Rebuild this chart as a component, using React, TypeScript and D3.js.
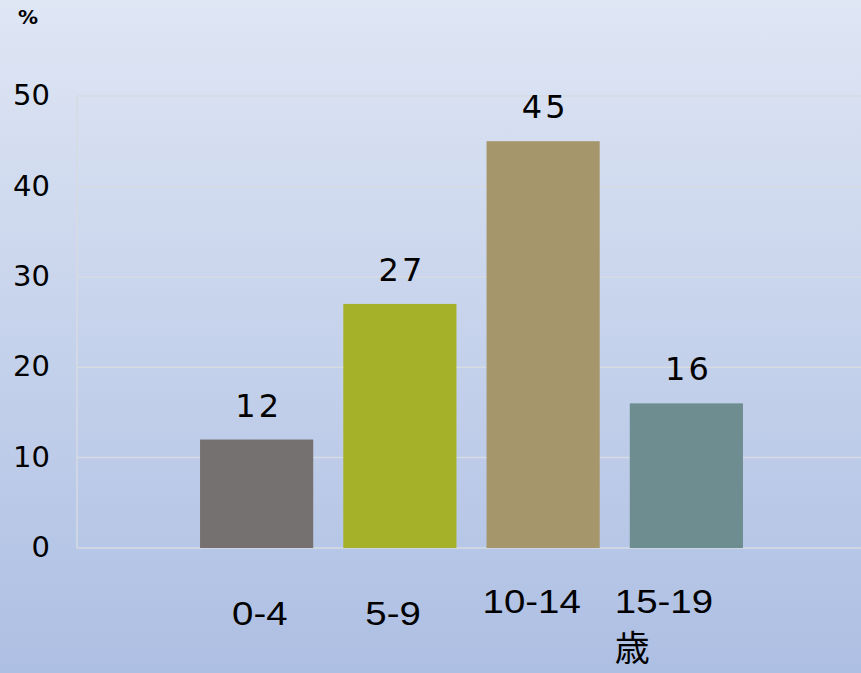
import React from "react";
import * as d3 from "d3";

const categories = ["0-4", "5-9", "10-14", "15-19"];
const values = [12, 27, 45, 16];
const colors = ["#767171", "#a5b128", "#a5976b", "#6d8d91"];
const yTicks = [0, 10, 20, 30, 40, 50];
const unitLabel = "%";
const ageSuffix = "歳";

const W = 861;
const H = 673;

export default function App() {
  const x = d3
    .scaleBand<string>()
    .domain(categories)
    .range([185, 758])
    .paddingInner(0.21)
    .paddingOuter(0.105);
  const y = d3.scaleLinear().domain([0, 50]).range([548, 96]);
  const plotLeft = 77;
  const plotRight = W;
  const labelDx = [32, 22, -4, -15];
  const labelBaselines = [625, 625, 613, 613];
  const numFont = "'DejaVu Sans', sans-serif";

  return (
    <svg
      width={W}
      height={H}
      style={{ position: "fixed", left: 0, top: 0, display: "block" }}
    >
      <defs>
        <linearGradient id="bg" x1="0" y1="0" x2="0" y2="1">
          <stop offset="0" stopColor="#dfe6f4" />
          <stop offset="1" stopColor="#adbfe3" />
        </linearGradient>
      </defs>
      <rect x={0} y={0} width={W} height={H} fill="url(#bg)" />
      {yTicks.map((t) => (
        <line
          key={"g" + t}
          x1={plotLeft}
          x2={plotRight}
          y1={y(t)}
          y2={y(t)}
          stroke="#d6dbe3"
          strokeWidth={1.5}
        />
      ))}
      <line
        x1={plotLeft}
        x2={plotLeft}
        y1={y(50)}
        y2={y(0)}
        stroke="#d6dbe3"
        strokeWidth={1.5}
      />
      {yTicks.map((t) => (
        <text
          key={"t" + t}
          x={50}
          y={y(t)}
          dy="0.32em"
          textAnchor="end"
          fontFamily={numFont}
          fontSize={29}
          fill="#000"
        >
          {t}
        </text>
      ))}
      <text
        x={28}
        y={24}
        textAnchor="middle"
        fontFamily="'DejaVu Sans', sans-serif"
        fontWeight="bold"
        fontSize={20}
        fill="#000"
      >
        {unitLabel}
      </text>
      {categories.map((c, i) => (
        <rect
          key={"b" + c}
          x={x(c)}
          y={y(values[i])}
          width={x.bandwidth()}
          height={y(0) - y(values[i])}
          fill={colors[i]}
        />
      ))}
      {categories.map((c, i) => (
        <text
          key={"v" + c}
          x={(x(c) as number) + x.bandwidth() / 2 + 2}
          y={y(values[i]) - 23}
          textAnchor="middle"
          fontFamily={numFont}
          fontSize={32}
          letterSpacing={3}
          fill="#000"
        >
          {values[i]}
        </text>
      ))}
      {categories.map((c, i) => {
        const lx = (x(c) as number) + labelDx[i];
        const last = i === categories.length - 1;
        return (
          <g key={"x" + c}>
            <text
              transform={`translate(${lx},${labelBaselines[i]}) scale(1.13,1)`}
              textAnchor="start"
              fontFamily="'Liberation Sans', Arial, sans-serif"
              fontSize={34}
              fill="#000"
            >
              {c}
            </text>
            {last && (
              <text
                x={lx}
                y={661}
                textAnchor="start"
                fontFamily="'Noto Sans CJK JP', sans-serif"
                fontSize={35}
                fill="#000"
              >
                {ageSuffix}
              </text>
            )}
          </g>
        );
      })}
    </svg>
  );
}
